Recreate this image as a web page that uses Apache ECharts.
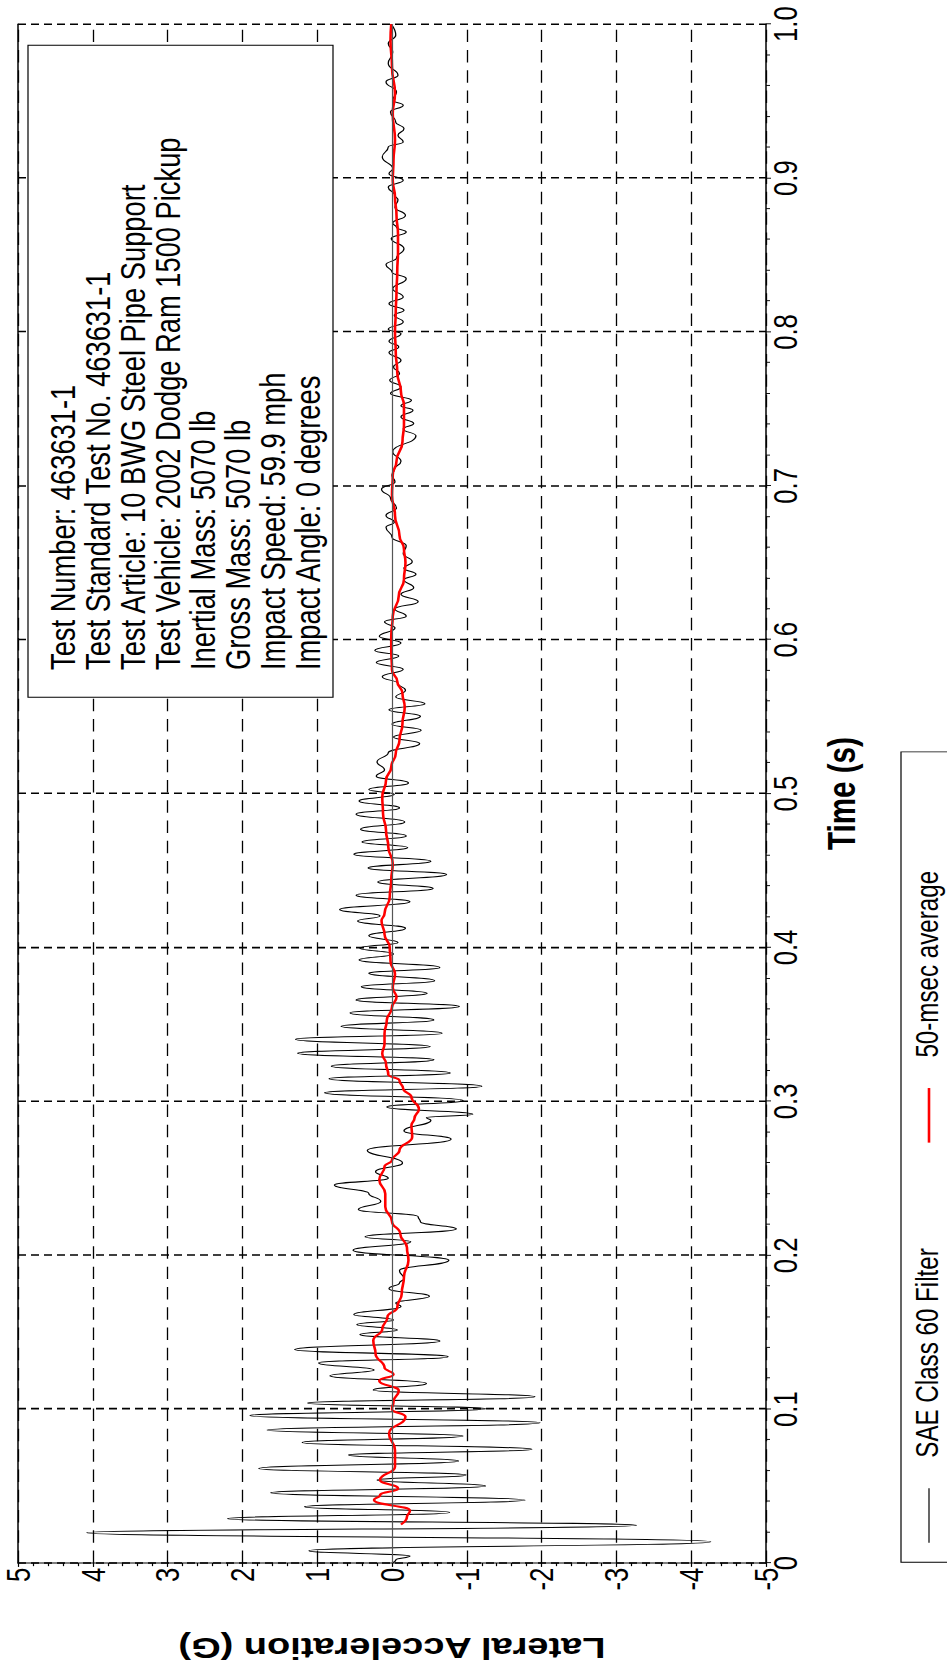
<!DOCTYPE html>
<html>
<head>
<meta charset="utf-8">
<script src="https://cdn.jsdelivr.net/npm/echarts@6/dist/echarts.min.js"></script>
<style>
html,body{margin:0;padding:0;background:#fff;}
#page{position:relative;width:947px;height:1673px;overflow:hidden;background:#fff;}
#chart{position:absolute;left:0;top:0;width:2145px;height:947px;transform-origin:0 0;transform:matrix(0,-0.779953,1,0,0,1673);}
</style>
</head>
<body>
<div id="page"><div id="chart"></div></div>
<script>
// ---------- DATA ----------
const timeTickLabels = ['0','0.1','0.2','0.3','0.4','0.5','0.6','0.7','0.8','0.9','1.0'];
const accelTickLabels = ['-5','-4','-3','-2','-1','0','1','2','3','4','5'];
const seriesNames = ['SAE Class 60 Filter', '50-msec average'];
const infoLines = [
  'Test Number: 463631-1',
  'Test Standard Test No. 463631-1',
  'Test Article: 10 BWG Steel Pipe Support',
  'Test Vehicle: 2002 Dodge Ram 1500 Pickup',
  'Inertial Mass: 5070 lb',
  'Gross Mass: 5070 lb',
  'Impact Speed: 59.9 mph',
  'Impact Angle: 0 degrees'
];

// SAE Class 60 filtered lateral acceleration (time s, G)
const filterTime = [
  0, 0.002, 0.0045, 0.008, 0.0139, 0.0197, 0.0245, 0.0288, 0.0329, 0.0366,
  0.0409, 0.0457, 0.050, 0.0539, 0.0572, 0.0615, 0.0663, 0.0702, 0.0739, 0.0784,
  0.0825, 0.0864, 0.0911, 0.0958, 0.1002, 0.1040, 0.1080, 0.1124, 0.1167, 0.1217,
  0.1254, 0.1300, 0.1341, 0.1387, 0.1443, 0.1485, 0.1515, 0.1550, 0.1580, 0.1615,
  0.1667, 0.1690, 0.1733, 0.1783, 0.1820, 0.1848, 0.1900, 0.1967, 0.2033, 0.2087,
  0.2120, 0.2170, 0.2217, 0.2250, 0.2298, 0.2350, 0.2402, 0.2457, 0.2500, 0.2543,
  0.2600, 0.2682, 0.2754, 0.2808, 0.2877, 0.2895, 0.2916, 0.2963, 0.3006, 0.3056,
  0.3099, 0.3147, 0.3184, 0.3229, 0.3270, 0.3313, 0.3356, 0.3404, 0.3443, 0.3488,
  0.3529, 0.3575, 0.3616, 0.3659, 0.3702, 0.3745, 0.3784, 0.3832, 0.3870, 0.3918,
  0.3957, 0.3996, 0.4032, 0.4076, 0.4125, 0.4172, 0.4205, 0.4247, 0.4297, 0.4340,
  0.4383, 0.4426, 0.4474, 0.4517, 0.4560, 0.4606, 0.4649, 0.4686, 0.4725, 0.4768,
  0.4816, 0.4866, 0.4907, 0.4952, 0.4995, 0.5026, 0.5069, 0.5113, 0.5155, 0.5206,
  0.5265, 0.5325, 0.5368, 0.5411, 0.5450, 0.5502, 0.5545, 0.5584, 0.5627, 0.5672,
  0.5715, 0.5760, 0.5808, 0.5852, 0.5895, 0.5930, 0.5978, 0.6022, 0.6076, 0.6116,
  0.6153, 0.6200, 0.6247, 0.6295, 0.6338, 0.6389, 0.6426, 0.6465, 0.6507, 0.6560,
  0.6611, 0.6666, 0.6731, 0.6764, 0.6808, 0.6856, 0.6920, 0.6978, 0.7025, 0.7069,
  0.7105, 0.7160, 0.7220, 0.7325, 0.7370, 0.7405, 0.7448, 0.7491, 0.7520, 0.7556,
  0.7600, 0.7643, 0.7686, 0.7730, 0.7773, 0.7816, 0.7866, 0.7903, 0.7940, 0.7989,
  0.8017, 0.8065, 0.8108, 0.8141, 0.8184, 0.8227, 0.8281, 0.8346, 0.8390, 0.8437,
  0.8480, 0.8541, 0.8608, 0.8649, 0.8680, 0.8707, 0.8757, 0.8811, 0.8859, 0.8887,
  0.8941, 0.8985, 0.9028, 0.9061, 0.9137, 0.9202, 0.9234, 0.9278, 0.9321, 0.9364,
  0.9430, 0.9473, 0.9505, 0.9560, 0.9625, 0.9668, 0.9744, 0.9820, 0.9874, 0.9928,
  1.0
];
const filterAccel = [
  0, -0.05, -0.24, 1.11, -4.26, 4.08, -3.27, 2.2, -0.77, 1.17,
  -1.78, 1.62, -1.25, 0.2, -0.99, 1.78, -0.89, 0.58, -1.87, 1.2,
  -0.95, 1.67, -1.98, 1.9, -1.25, 1.13, -1.91, 0.25, -0.46, 0.83,
  0.24, 0.98, -0.75, 1.30, -0.64, 0.43, -0.07, 0.47, -0.02, 0.51,
  -0.12, -0.05, -0.50, 0.04, -0.10, -0.16, -0.10, -0.76, 0.52, -0.25,
  0.36, -0.86, -0.38, -0.35, 0.45, 0.15, 0.31, 0.77, 0.05, 0.22,
  -0.14, 0.33, -0.79, -0.16, -0.52, -0.46, -1.08, 0.07, -0.95, 0.90,
  -1.20, 0.84, -0.78, 0.81, -0.56, 1.26, -0.51, 1.29, -0.67, 0.68,
  -0.56, 0.56, -0.90, 0.48, -0.47, 0.41, -0.57, 0.31, -0.64, 0.44,
  -0.02, 0.43, -0.08, 0.31, -0.18, 0.46, 0.16, 0.70, -0.24, 0.48,
  -0.55, 0.19, -0.73, 0.32, -0.52, 0.51, -0.21, 0.40, -0.19, 0.42,
  -0.17, 0.48, -0.10, 0.44, -0.03, 0.31, -0.22, 0.21, 0.10, 0.20,
  0.05, -0.37, -0.02, -0.39, 0.0, -0.38, 0.04, -0.44, -0.05, -0.18,
  -0.08, 0.13, -0.15, 0.21, -0.09, 0.23, -0.12, 0.17, -0.04, 0.10,
  -0.19, -0.04, -0.35, -0.12, -0.29, -0.16, -0.32, -0.16, -0.27, -0.15,
  -0.19, 0.0, 0.08, -0.03, 0.08, -0.06, 0.02, 0.14, -0.04, 0.0,
  -0.03, -0.12, -0.01, -0.32, -0.15, -0.29, -0.12, -0.28, -0.12, -0.26,
  0.02, -0.12, 0.03, -0.10, -0.02, -0.12, 0.04, -0.09, 0.04, -0.12,
  0.05, -0.15, -0.03, -0.16, 0.04, -0.15, -0.01, -0.19, 0.0, 0.08,
  -0.06, -0.16, 0.01, -0.19, -0.06, -0.01, -0.18, -0.04, -0.08, -0.04,
  0.05, -0.15, 0.04, -0.01, 0.13, 0.05, -0.15, -0.08, -0.16, -0.05,
  0.02, -0.15, -0.01, -0.06, 0.08, -0.08, 0.05, -0.01, 0.05, -0.05,
  0.01
];

// 50-msec moving average (time s, G)
const avgTime = [
  0.025, 0.030, 0.034, 0.0409, 0.0441, 0.0485, 0.0539, 0.0625, 0.0733, 0.0842,
  0.0950, 0.1000, 0.1050, 0.1120, 0.1185, 0.1225, 0.1270, 0.1360, 0.1446, 0.1520,
  0.1600, 0.1660, 0.1750, 0.1860, 0.1967, 0.2050, 0.2140, 0.2220, 0.2315, 0.2400,
  0.2490, 0.2576, 0.2617, 0.2682, 0.2769, 0.2845, 0.2888, 0.2952, 0.3028, 0.3082,
  0.3136, 0.3175, 0.3244, 0.3309, 0.3374, 0.3440, 0.3525, 0.3611, 0.3676, 0.3740,
  0.3827, 0.3910, 0.4000, 0.4086, 0.4173, 0.4221, 0.4330, 0.4437, 0.4545, 0.4654,
  0.4762, 0.4870, 0.4978, 0.5087, 0.5173, 0.5260, 0.5346, 0.5455, 0.5563, 0.5650,
  0.5730, 0.5803, 0.5934, 0.6022, 0.6153, 0.6284, 0.6393, 0.6502, 0.6590, 0.6677,
  0.6808, 0.6939, 0.7070, 0.7160, 0.7286, 0.7394, 0.7524, 0.7610, 0.7740, 0.7870,
  0.8000, 0.8130, 0.8260, 0.8390, 0.8520, 0.8638, 0.8760, 0.8876, 0.8985, 0.9115,
  0.9245, 0.9419, 0.9550, 0.9722, 0.9896, 1.0
];
const avgAccel = [
  -0.12, -0.20, -0.24, 0.24, 0.16, -0.08, 0.16, -0.04, -0.04, 0.04,
  -0.18, 0.0, -0.02, -0.09, 0.17, -0.02, 0.10, 0.22, 0.25, 0.13,
  0.06, -0.07, -0.13, -0.16, -0.22, -0.20, -0.11, 0.0, 0.09, 0.09,
  0.17, 0.10, 0.0, -0.10, -0.27, -0.26, -0.30, -0.36, -0.26, -0.15,
  -0.10, 0.05, 0.08, 0.13, 0.10, 0.10, 0.07, 0.0, -0.06, -0.01,
  -0.04, 0.02, 0.03, 0.10, 0.14, 0.10, 0.03, 0.01, -0.01, 0.05,
  0.08, 0.12, 0.13, 0.08, 0.01, -0.05, -0.10, -0.14, -0.17, -0.14,
  -0.07, 0.0, 0.01, 0.01, -0.01, -0.09, -0.16, -0.18, -0.16, -0.10,
  -0.04, 0.0, -0.01, -0.06, -0.14, -0.16, -0.16, -0.12, -0.07, -0.05,
  -0.04, -0.05, -0.06, -0.07, -0.08, -0.08, -0.06, -0.04, -0.01, -0.02,
  -0.04, -0.01, -0.04, 0.0, 0.02, 0.01
];

// ---------- CHART ----------
const FONT = "'Liberation Sans', Arial, Helvetica, sans-serif";
const zip = (a, b) => a.map((v, i) => [v, b[i]]);

const chart = echarts.init(document.getElementById('chart'), null, {renderer: 'svg'});

const splitColors = accelTickLabels.map(l => l === '0' ? 'rgba(0,0,0,0)' : '#000');

const option = {
  animation: false,
  backgroundColor: '#fff',
  grid: {left: 141, right: 31, top: 18, bottom: 181},
  xAxis: [{
    type: 'value', min: 0, max: 1, interval: 0.1, position: 'bottom',
    name: 'Time (s)', nameLocation: 'middle', nameGap: 76,
    nameTextStyle: {fontFamily: FONT, fontSize: 38, fontWeight: 'bold', color: '#000', verticalAlign: 'middle'},
    axisLine: {show: true, onZero: false, lineStyle: {color: '#000', width: 1.5}},
    axisTick: {show: true, inside: false, length: 5, lineStyle: {color: '#000', width: 1.2}},
    minorTick: {show: true, splitNumber: 5, length: 4, lineStyle: {color: '#000', width: 1.2}},
    axisLabel: {fontFamily: FONT, fontSize: 33, color: '#000', margin: 3,
      formatter: v => timeTickLabels[Math.round(v * 10)]},
    splitLine: {show: true, lineStyle: {type: [8, 5], color: '#000', width: 2}}
  }, {
    type: 'value', min: 0, max: 1, position: 'top',
    axisLine: {show: true, onZero: false, lineStyle: {color: '#000', width: 1.5}},
    axisTick: {show: false}, axisLabel: {show: false}, splitLine: {show: false}
  }],
  yAxis: [{
    type: 'value', min: -5, max: 5, interval: 1, position: 'left',
    name: 'Lateral Acceleration (G)', nameLocation: 'middle', nameGap: 109, nameRotate: 90,
    nameTextStyle: {fontFamily: FONT, fontSize: 38, fontWeight: 'bold', color: '#000', verticalAlign: 'middle', align: 'center'},
    axisLine: {show: true, onZero: false, lineStyle: {color: '#000', width: 1.5}},
    axisTick: {show: true, inside: false, length: 5, lineStyle: {color: '#000', width: 1.2}},
    minorTick: {show: true, splitNumber: 5, length: 4, lineStyle: {color: '#000', width: 1.2}},
    axisLabel: {fontFamily: FONT, fontSize: 33, color: '#000', margin: 6,
      formatter: v => accelTickLabels[Math.round(v) + 5]},
    splitLine: {show: true, lineStyle: {type: [16, 10], color: splitColors, width: 1.3}}
  }],
  series: [{
    name: seriesNames[0], type: 'line', xAxisIndex: 0, yAxisIndex: 0,
    data: zip(filterTime, filterAccel),
    showSymbol: false, symbol: 'none', smooth: 0.5, smoothMonotone: 'x',
    lineStyle: {color: '#000', width: 1.3},
    markLine: {silent: true, symbol: ['none', 'none'], label: {show: false},
      lineStyle: {type: 'solid', color: '#555', width: 1.2},
      data: [{yAxis: 0}]},
    z: 3
  }, {
    name: seriesNames[1], type: 'line', xAxisIndex: 0, yAxisIndex: 0,
    data: zip(avgTime, avgAccel),
    showSymbol: false, symbol: 'none', smooth: 0.5, smoothMonotone: 'x',
    lineStyle: {color: '#ff0000', width: 2.6},
    z: 4
  }],
  graphic: [
    // info box
    {type: 'rect', z: 100, shape: {x: 1251, y: 28, width: 836, height: 305},
      style: {fill: '#fff', stroke: '#000', lineWidth: 1.2}},
    {type: 'text', z: 101, x: 1286, y: 45.5,
      style: {text: infoLines.join('\n'), fontFamily: FONT, fontSize: 35, lineHeight: 35,
        fill: '#000', align: 'left', verticalAlign: 'top'}},
    // legend box
    {type: 'rect', z: 100, shape: {x: 142, y: 901, width: 1039, height: 120},
      style: {fill: '#fff', stroke: '#000', lineWidth: 1.2}},
    {type: 'line', z: 101, shape: {x1: 167, y1: 929, x2: 237, y2: 929},
      style: {stroke: '#000', lineWidth: 1.2}},
    {type: 'text', z: 101, x: 276, y: 927,
      style: {text: seriesNames[0], fontFamily: FONT, fontSize: 31, fill: '#000', align: 'left', verticalAlign: 'middle'}},
    {type: 'line', z: 101, shape: {x1: 680, y1: 929, x2: 750, y2: 929},
      style: {stroke: '#ff0000', lineWidth: 2.6}},
    {type: 'text', z: 101, x: 789, y: 927,
      style: {text: seriesNames[1], fontFamily: FONT, fontSize: 31, fill: '#000', align: 'left', verticalAlign: 'middle'}}
  ]
};
chart.setOption(option);
</script>
</body>
</html>
